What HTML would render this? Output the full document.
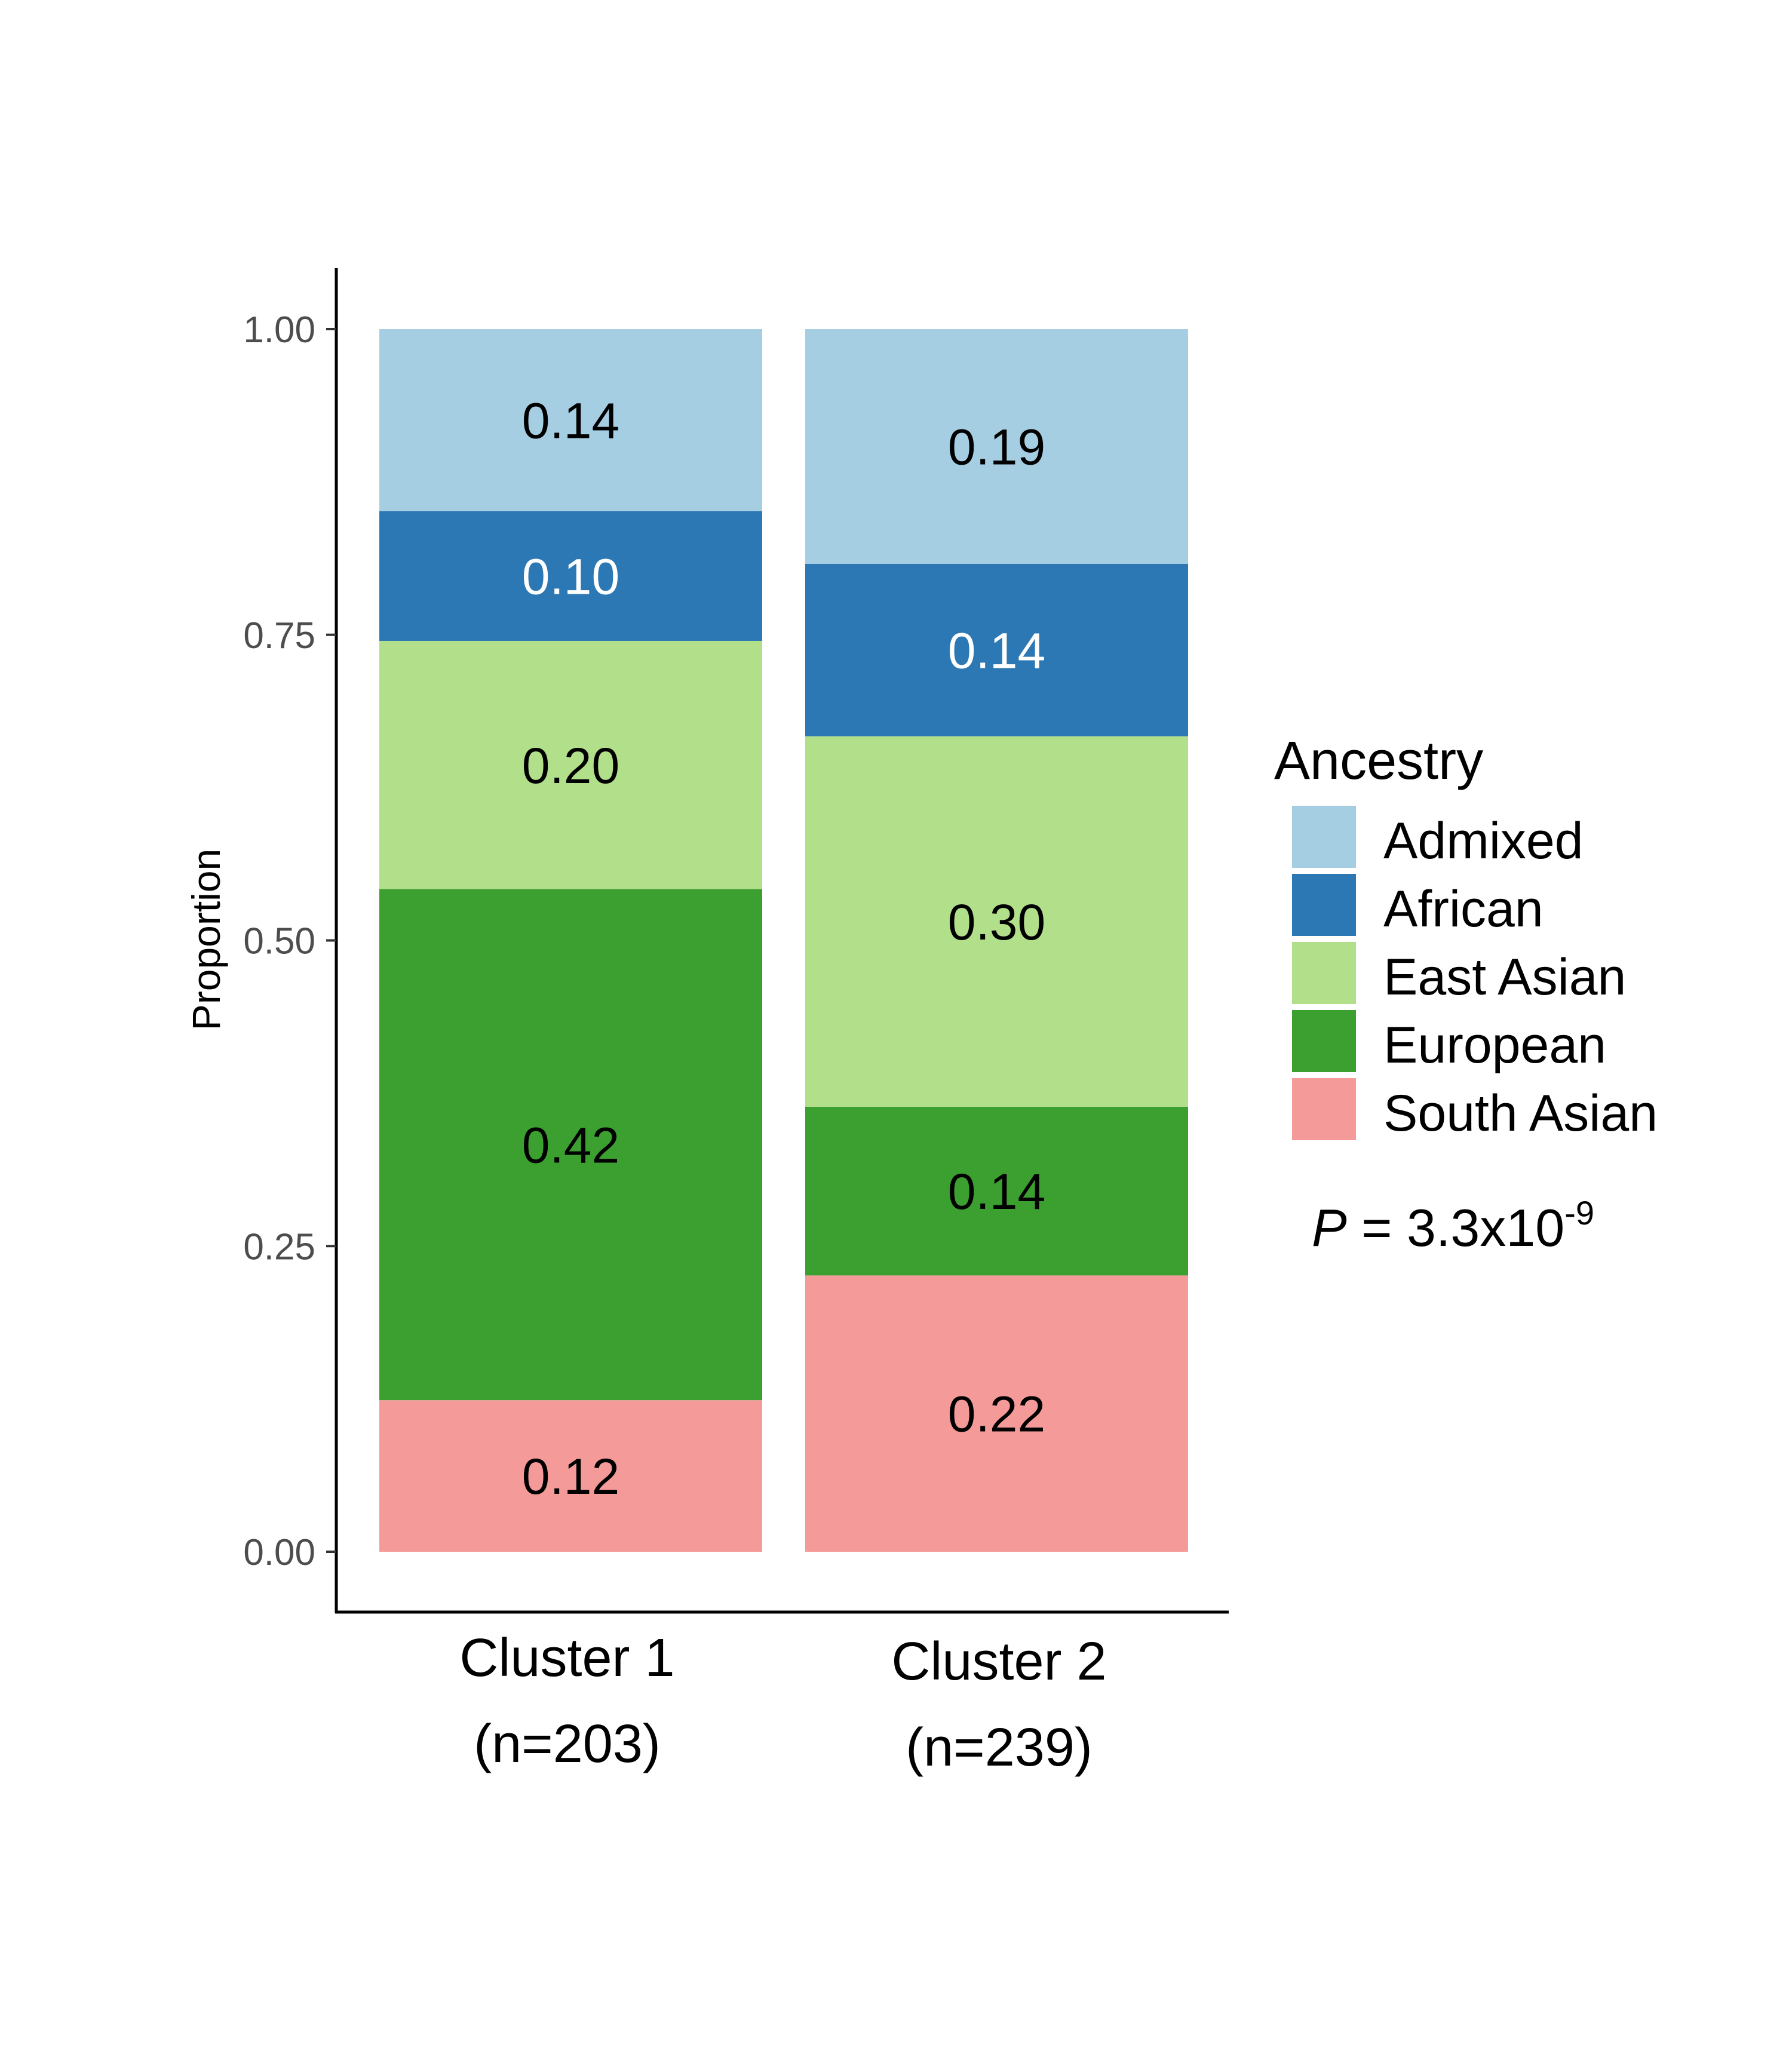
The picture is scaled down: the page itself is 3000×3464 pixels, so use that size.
<!DOCTYPE html>
<html><head><meta charset="utf-8"><style>
html,body{margin:0;padding:0;background:#fff;}
svg{display:block;}
text{font-family:"Liberation Sans",Arial,sans-serif;}
</style></head><body>
<svg id="chart" width="3000" height="3464" viewBox="0 0 3000 3464" xmlns="http://www.w3.org/2000/svg">
<rect x="0" y="0" width="3000" height="3464" fill="#fff"/>
<g id="bars"></g>
<g id="axes"></g>
<g id="legend"></g>
</svg>
<script>
const categories = ["Cluster 1", "Cluster 2"];
const sampleSizes = ["(n=203)", "(n=239)"];
const ancestries = ["South Asian", "European", "East Asian", "African", "Admixed"];
const cluster1Values = [0.124, 0.418, 0.203, 0.106, 0.149];
const cluster2Values = [0.226, 0.138, 0.303, 0.141, 0.192];
const cluster1Labels = ["0.12", "0.42", "0.20", "0.10", "0.14"];
const cluster2Labels = ["0.22", "0.14", "0.30", "0.14", "0.19"];
const yTicks = [0, 0.25, 0.5, 0.75, 1.0];
const yTickLabels = ["0.00", "0.25", "0.50", "0.75", "1.00"];
const legendOrder = ["Admixed", "African", "East Asian", "European", "South Asian"];

const colors = {"Admixed":"#a6cee3","African":"#2c78b4","East Asian":"#b2df8a","European":"#3ba02f","South Asian":"#f49a99"};
const NS = "http://www.w3.org/2000/svg";
function y(v){ return 2598 - v*2047; }
const barLeft = [635, 1348];
const barW = 641;
function mk(tag, attrs, parent, txt){
  const e = document.createElementNS(NS, tag);
  for (const k in attrs) e.setAttribute(k, attrs[k]);
  if (txt !== undefined) e.textContent = txt;
  parent.appendChild(e);
  return e;
}
const gb = document.getElementById('bars');
const series = [cluster1Values, cluster2Values];
const labels = [cluster1Labels, cluster2Labels];
categories.forEach((c, ci) => {
  let cum = 0;
  series[ci].forEach((v, si) => {
    const y0 = y(cum), y1 = y(cum + v);
    const r = mk('rect', {x: barLeft[ci], y: y1, width: barW, height: y0 - y1, fill: colors[ancestries[si]]}, gb);
    
    
    const t = mk('text', {x: barLeft[ci] + barW/2, y: (y0 + y1)/2 + 30, 'font-size': 84, 'text-anchor': 'middle', fill: ancestries[si] === 'African' ? '#fff' : '#000'}, gb, labels[ci][si]);
    
    
    cum += v;
  });
});
const ga = document.getElementById('axes');
const yl = mk('line', {x1: 563, y1: 449, x2: 563, y2: 2700, stroke: '#000', 'stroke-width': 5}, ga);


const xl = mk('line', {x1: 561, y1: 2699, x2: 2057, y2: 2699, stroke: '#000', 'stroke-width': 5}, ga);


yTicks.forEach((v, i) => {
  const tk = mk('line', {x1: 546, y1: y(v), x2: 563, y2: y(v), stroke: '#333', 'stroke-width': 4}, ga);
  
  
  const tl = mk('text', {x: 528, y: y(v) + 22, 'font-size': 62, 'text-anchor': 'end', fill: '#4d4d4d'}, ga, yTickLabels[i]);
  
  
});
const yt = mk('text', {x: 0, y: 0, 'font-size': 66, 'text-anchor': 'middle', fill: '#000', transform: 'translate(368,1573) rotate(-90)'}, ga, 'Proportion');


const labelDy = [0, 6];
categories.forEach((c, ci) => {
  const cx = barLeft[ci] + barW/2 + (ci === 0 ? -6 : 4);
  const t1 = mk('text', {x: cx, y: 2806 + labelDy[ci], 'font-size': 90, 'text-anchor': 'middle', fill: '#000'}, ga, c);
  
  
  const t2 = mk('text', {x: cx, y: 2950 + labelDy[ci], 'font-size': 90, 'text-anchor': 'middle', fill: '#000'}, ga, sampleSizes[ci]);
  
  
});
const gl = document.getElementById('legend');
const lt = mk('text', {x: 2133, y: 1304, 'font-size': 90, fill: '#000'}, gl, 'Ancestry');


legendOrder.forEach((a, i) => {
  const top = 1349 + i*114;
  const k = mk('rect', {x: 2163, y: top, width: 107, height: 104, fill: colors[a]}, gl);
  
  
  const t = mk('text', {x: 2316, y: top + 88, 'font-size': 86, fill: '#000'}, gl, a);
  
  
});
const p = mk('text', {x: 2196, y: 2086, 'font-size': 88, fill: '#000'}, gl);


mk('tspan', {'font-style': 'italic'}, p, 'P');
mk('tspan', {}, p, ' = 3.3x10');
mk('tspan', {'font-size': 56, dy: -36}, p, '-9');
</script>
</body></html>
